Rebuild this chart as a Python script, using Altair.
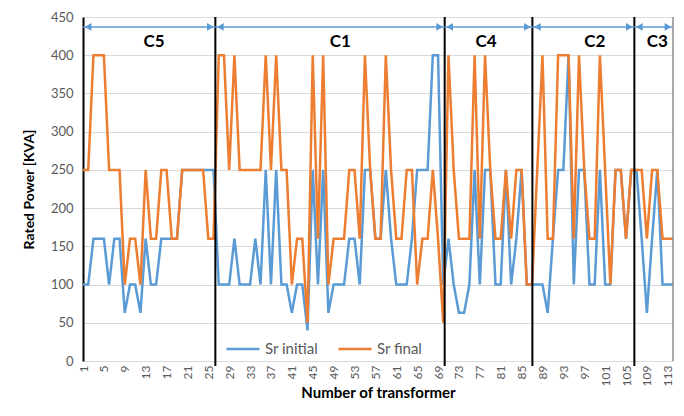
import altair as alt
import pandas as pd

# ---------------- data ----------------
transformer = list(range(1, 115))

sr_initial = [
    100, 100, 160, 160, 160, 100, 160, 160, 63, 100,
    100, 63, 160, 100, 100, 160, 160, 160, 160, 250,
    250, 250, 250, 250, 250, 250, 100, 100, 100, 160,
    100, 100, 100, 160, 100, 250, 100, 250, 100, 100,
    63, 100, 100, 40, 250, 100, 250, 63, 100, 100,
    100, 160, 160, 100, 250, 250, 160, 160, 250, 160,
    100, 100, 100, 160, 250, 250, 250, 400, 400, 100,
    160, 100, 63, 63, 100, 250, 100, 250, 250, 100,
    100, 250, 100, 160, 250, 100, 100, 100, 100, 63,
    160, 250, 250, 400, 100, 250, 250, 100, 100, 250,
    100, 100, 250, 250, 160, 250, 250, 160, 63, 160,
    250, 100, 100, 100,
]

sr_final = [
    250, 250, 400, 400, 400, 250, 250, 250, 100, 160,
    160, 100, 250, 160, 160, 250, 250, 160, 160, 250,
    250, 250, 250, 250, 160, 160, 400, 400, 250, 400,
    250, 250, 250, 250, 250, 400, 250, 400, 250, 250,
    100, 160, 160, 50, 400, 160, 400, 100, 160, 160,
    160, 250, 250, 160, 400, 250, 160, 160, 400, 250,
    160, 160, 250, 250, 100, 160, 160, 250, 160, 50,
    400, 250, 160, 160, 160, 400, 160, 400, 250, 160,
    160, 250, 160, 250, 250, 100, 100, 250, 400, 160,
    160, 400, 400, 400, 160, 400, 250, 160, 160, 400,
    250, 100, 250, 250, 160, 250, 250, 250, 160, 250,
    250, 160, 160, 160,
]

series_names = ["Sr initial", "Sr final"]
series_colors = ["#5b9bd5", "#ed7d31"]

cluster_names = ["C5", "C1", "C4", "C2", "C3"]
cluster_bounds = [1.0, 26.35, 70.27, 87.07, 106.6, 114.0]
cluster_label_x = [14.6, 50.3, 78.2, 99.0, 111.0]

x_ticks = list(range(1, 114, 4))
y_ticks = list(range(0, 451, 50))

FONT = "Lato"
GREY = "#595959"

# ---------------- tables ----------------
df_init = pd.DataFrame({"transformer": transformer, "kva": sr_initial, "series": series_names[0]})
df_final = pd.DataFrame({"transformer": transformer, "kva": sr_final, "series": series_names[1]})

bounds_df = pd.DataFrame({"x": cluster_bounds[1:-1]})
edge_df = pd.DataFrame({"x": [cluster_bounds[-1]]})
arrows_df = pd.DataFrame({
    "x": cluster_bounds[:-1],
    "x2": cluster_bounds[1:],
    "y": [437] * len(cluster_names),
})
left_heads = pd.DataFrame({"x": cluster_bounds[:-1], "y": [437] * len(cluster_names)})
right_heads = pd.DataFrame({"x": cluster_bounds[1:], "y": [437] * len(cluster_names)})
labels_df = pd.DataFrame({"x": cluster_label_x, "y": [417] * len(cluster_names), "name": cluster_names})

x_scale = alt.Scale(domain=[1, 114], nice=False, zero=False)
y_scale = alt.Scale(domain=[0, 450], nice=False)
color_scale = alt.Scale(domain=series_names, range=series_colors)

x_axis = alt.Axis(
    values=x_ticks, labelAngle=270, grid=False, ticks=False, domain=False,
    labelOverlap=False,
    title="Number of transformer", titleFont=FONT, titleFontSize=15, titleFontWeight="bold",
    titleColor="#000000", titlePadding=0, labelFont=FONT, labelFontSize=12,
    labelColor=GREY, labelPadding=4,
)
y_axis = alt.Axis(
    values=y_ticks, grid=True, gridColor="#d9d9d9", gridWidth=1, ticks=False,
    domain=True, domainColor="#000000", domainWidth=2, labelOverlap=False,
    title="Rated Power [KVA]", titleFont=FONT, titleFontSize=14, titleFontWeight="bold",
    titleColor="#000000", titlePadding=14, labelFont=FONT, labelFontSize=13,
    labelColor=GREY, labelPadding=10,
)


def X(field):
    return alt.X(field, scale=x_scale, axis=x_axis)


def Y(field):
    return alt.Y(field, scale=y_scale, axis=y_axis)


legend = alt.Legend(
    orient="none", legendX=142, legendY=314, direction="horizontal", title=None,
    symbolType="stroke", symbolStrokeWidth=2.5, symbolSize=1100,
    labelFont=FONT, labelFontSize=15, labelColor=GREY, columnPadding=14,
    labelLimit=200,
)

line_init = alt.Chart(df_init).mark_line(strokeWidth=2.5).encode(
    x=X("transformer:Q"),
    y=Y("kva:Q"),
    color=alt.Color("series:N", scale=color_scale, legend=legend),
)
line_final = alt.Chart(df_final).mark_line(strokeWidth=2.5).encode(
    x=X("transformer:Q"),
    y=Y("kva:Q"),
    color=alt.Color("series:N", scale=color_scale, legend=legend),
)

vlines = alt.Chart(bounds_df).mark_rule(color="#000000", strokeWidth=2).encode(
    x=X("x:Q"),
    y=alt.value(0),
    y2=alt.value(349),
)
edge_line = alt.Chart(edge_df).mark_rule(color="#8c8c8c", strokeWidth=1.5).encode(
    x=X("x:Q"),
    y=alt.value(0),
    y2=alt.value(344),
)
arrow_lines = alt.Chart(arrows_df).mark_rule(color="#5b9bd5", strokeWidth=1.5).encode(
    x=X("x:Q"),
    x2="x2:Q",
    y=Y("y:Q"),
)
lh = alt.Chart(left_heads).mark_point(shape="triangle-left", filled=True, size=60,
                                      color="#5b9bd5", opacity=1, xOffset=5).encode(
    x=X("x:Q"), y=Y("y:Q"))
rh = alt.Chart(right_heads).mark_point(shape="triangle-right", filled=True, size=60,
                                       color="#5b9bd5", opacity=1, xOffset=-5).encode(
    x=X("x:Q"), y=Y("y:Q"))
texts = alt.Chart(labels_df).mark_text(font=FONT, fontSize=17, fontWeight="bold",
                                        color="#000000").encode(
    x=X("x:Q"), y=Y("y:Q"), text="name:N")

chart = alt.layer(
    line_init, line_final, vlines, edge_line, arrow_lines, lh, rh, texts
).properties(
    width=590, height=344,
    autosize=alt.AutoSizeParams(type="none"),
    padding={"left": 75, "top": 9, "right": 3, "bottom": 41},
    background="#ffffff",
).configure_view(strokeWidth=0)

chart.save("out.html", embed_options={"renderer": "svg", "actions": False})
